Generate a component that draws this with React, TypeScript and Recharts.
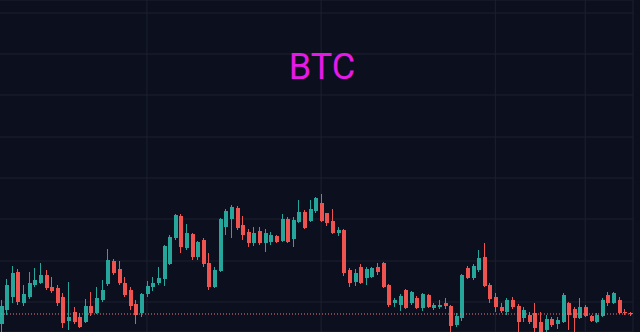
import React from 'react';
import { ComposedChart, Bar, XAxis, YAxis, CartesianGrid, ReferenceLine } from 'recharts';

// price levels are in chart units (higher = up)
const open = [
  76, 90, 103, 128, 97, 103, 115, 117, 125, 113, 112, 103, 79, 88, 83, 78, 94, 87, 100, 116,
  139, 131, 117, 110, 96, 87, 106, 113, 117, 121, 136, 162, 184, 152, 166, 143, 160, 137, 113, 129,
  173, 181, 192, 175, 168, 157, 169, 157, 158, 164, 159, 181, 161, 178, 188, 179, 189, 197, 187, 179,
  167, 170, 130, 118, 133, 122, 123, 133, 137, 115, 97, 95, 110, 97, 102, 92, 105, 92, 93, 97,
  94, 75, 82, 132, 122, 130, 143, 115, 103, 93, 88, 100, 94, 82, 85, 87, 78, 70, 81, 76,
  78, 97, 91, 82, 93, 84, 78, 84, 105, 97, 100, 88, 87,
];
const high = [
  100, 121, 134, 131, 115, 128, 132, 137, 130, 123, 115, 107, 118, 93, 87, 101, 108, 113, 120, 151,
  141, 139, 123, 113, 100, 107, 119, 123, 133, 155, 165, 186, 186, 176, 167, 159, 162, 147, 133, 182,
  191, 195, 194, 184, 171, 173, 173, 171, 168, 165, 186, 183, 183, 200, 190, 200, 203, 206, 187, 191,
  173, 171, 132, 131, 136, 133, 133, 137, 138, 116, 102, 106, 111, 109, 104, 107, 106, 97, 100, 102,
  95, 87, 126, 134, 136, 150, 157, 117, 107, 97, 102, 103, 96, 93, 88, 97, 88, 85, 83, 83,
  107, 98, 93, 102, 95, 85, 87, 102, 108, 108, 103, 91, 88,
];
const low = [
  66, 85, 97, 95, 94, 101, 113, 116, 110, 107, 94, 72, 70, 76, 72, 77, 84, 86, 98, 114,
  125, 115, 103, 90, 76, 83, 103, 109, 115, 114, 135, 160, 147, 150, 140, 140, 133, 110, 112, 128,
  165, 162, 170, 160, 153, 154, 155, 148, 155, 157, 158, 157, 153, 177, 171, 178, 187, 178, 174, 166,
  164, 124, 113, 114, 116, 115, 122, 125, 112, 93, 93, 89, 91, 95, 91, 89, 92, 90, 91, 91,
  66, 73, 79, 121, 120, 128, 113, 97, 88, 87, 85, 91, 66, 78, 76, 66, 64, 66, 73, 71,
  77, 70, 66, 81, 83, 78, 77, 83, 94, 96, 86, 85, 84,
];
const close = [
  94, 115, 127, 98, 106, 117, 120, 125, 112, 109, 97, 77, 83, 78, 73, 94, 87, 102, 110, 140,
  127, 117, 105, 94, 85, 106, 114, 117, 122, 154, 163, 185, 153, 167, 143, 158, 136, 113, 130, 181,
  189, 193, 172, 165, 157, 167, 157, 167, 165, 158, 181, 158, 180, 188, 172, 191, 202, 179, 177, 167,
  170, 127, 117, 127, 117, 131, 132, 128, 113, 95, 100, 104, 92, 108, 92, 106, 93, 95, 95, 94,
  74, 84, 125, 122, 134, 142, 114, 101, 93, 89, 100, 93, 78, 90, 78, 72, 65, 81, 75, 80,
  105, 85, 82, 93, 84, 79, 85, 100, 97, 107, 87, 87, 86,
];

// indices of the days that carry a vertical grid line
const gridDayIndex = [12, 26, 43, 57, 74, 88, 104];
// horizontal grid levels
const gridLevels = [98, 139, 181, 222, 263, 305, 346, 387];

const UP = '#26a69a';
const DOWN = '#ef5350';

const days = open.map((_, i) => {
  const d = new Date(Date.UTC(2023, 0, 1 + i));
  return d.toISOString().slice(0, 10);
});

const data = days.map((day, i) => ({
  day,
  open: open[i],
  high: high[i],
  low: low[i],
  close: close[i],
  range: [low[i], high[i]],
}));

const Candle = (props: any) => {
  const { x, y, width, height, payload } = props;
  const { open: o, close: c, high: h, low: l } = payload;
  const color = c >= o ? UP : DOWN;
  const ratio = height / (h - l);
  const cx = Math.round(x + width / 2);
  const bodyTop = y + (h - Math.max(o, c)) * ratio;
  const bodyH = Math.max(1, Math.abs(o - c) * ratio);
  return (
    <g>
      <line x1={cx + 0.5} x2={cx + 0.5} y1={y} y2={y + height} stroke={color} strokeWidth={1} />
      <rect x={cx - 1} y={bodyTop} width={4} height={bodyH} fill={color} />
    </g>
  );
};

export default function App() {
  return (
    <div style={{ position: 'absolute', left: 0, top: 0, width: 640, height: 332, background: '#0c0f1d', overflow: 'hidden' }}>
      <ComposedChart width={640} height={332} data={data} margin={{ top: 0, right: 7, bottom: 0, left: -2 }}>
        <CartesianGrid stroke="#1c2131" />
        <XAxis dataKey="day" hide ticks={gridDayIndex.map(i => days[i])} />
        <YAxis hide domain={[68, 400]} allowDataOverflow ticks={gridLevels} />
        <ReferenceLine y={close[close.length - 1]} stroke="#f07a7a" strokeDasharray="1 2" />
        <Bar dataKey="range" shape={Candle} isAnimationActive={false} />
      </ComposedChart>
      <svg width={640} height={332} style={{ position: 'absolute', left: 0, top: 0, pointerEvents: 'none' }}>
        <text x={322} y={79} textAnchor="middle" fill="#e619e6" fontSize={36} fontFamily="Roboto, sans-serif">
          BTC
        </text>
      </svg>
    </div>
  );
}
